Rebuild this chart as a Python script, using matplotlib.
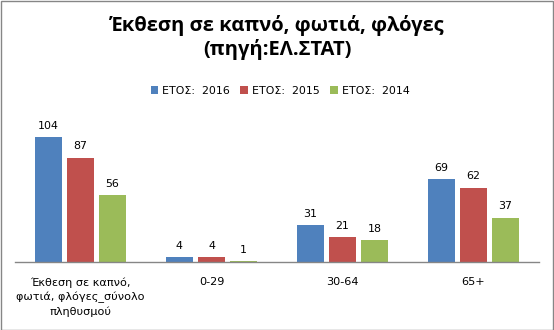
import matplotlib
matplotlib.use("Agg")
import matplotlib.pyplot as plt
import numpy as np

categories = ["Έκθεση σε καπνό,\nφωτιά, φλόγες_σύνολο\nπληθυσμού", "0-29", "30-64", "65+"]
series_names = ["ΕΤΟΣ:  2016", "ΕΤΟΣ:  2015", "ΕΤΟΣ:  2014"]
values_2016 = [104, 4, 31, 69]
values_2015 = [87, 4, 21, 62]
values_2014 = [56, 1, 18, 37]
colors = ["#4F81BD", "#C0504D", "#9BBB59"]

W, H = 554, 330
fig = plt.figure(figsize=(W / 100, H / 100), dpi=100)
fig.patch.set_facecolor("white")

# outer frame
frame = plt.Rectangle((0.5 / W, 0.5 / H), 1 - 1.5 / W, 1 - 1.5 / H, transform=fig.transFigure,
                      fill=False, edgecolor="#868686", linewidth=1.0)
fig.add_artist(frame)

# plot area in pixels
left, right = 15, 539
base_y, top_y = 262, 118
ax = fig.add_axes([left / W, (H - base_y) / H, (right - left) / W, (base_y - top_y) / H])
ax.set_xlim(-0.5, 3.5)
ax.set_ylim(0, 120)

x = np.arange(len(categories))
bw = 0.2
step = 0.245
all_vals = [values_2016, values_2015, values_2014]
for i, vals in enumerate(all_vals):
    pos = x + (i - 1) * step
    ax.bar(pos, vals, width=bw, color=colors[i], label=series_names[i], zorder=2)
    for p, v in zip(pos, vals):
        ax.annotate(str(v), (p, v), xytext=(0, 4.5), textcoords="offset points",
                    ha="center", va="bottom", fontsize=7.9, color="#000000",
                    family="DejaVu Sans")

for s in ["top", "right", "left"]:
    ax.spines[s].set_visible(False)
ax.spines["bottom"].set_color("#868686")
ax.spines["bottom"].set_linewidth(1.0)
ax.set_yticks([])
ax.set_xticks(x)
ax.set_xticklabels(categories, fontsize=8.1, family="DejaVu Sans", linespacing=1.45, va="top")
ax.tick_params(axis="x", length=0, pad=11)

fig.text(0.5, 1 - 25 / H, "Έκθεση σε καπνό, φωτιά, φλόγες", ha="center", va="center",
         fontsize=14.5, fontweight="bold", family="Open Sans")
fig.text(0.5, 1 - 49 / H, "(πηγή:ΕΛ.ΣΤΑΤ)", ha="center", va="center",
         fontsize=14.5, fontweight="bold", family="Open Sans")

leg = fig.legend(loc="center", bbox_to_anchor=(280 / W, 1 - 91 / H), ncol=3, frameon=False,
                 prop={"family": "DejaVu Sans", "size": 7.9}, handlelength=0.7,
                 handleheight=0.7, handletextpad=0.35, columnspacing=0.95)

fig.savefig("out.png", dpi=100)
